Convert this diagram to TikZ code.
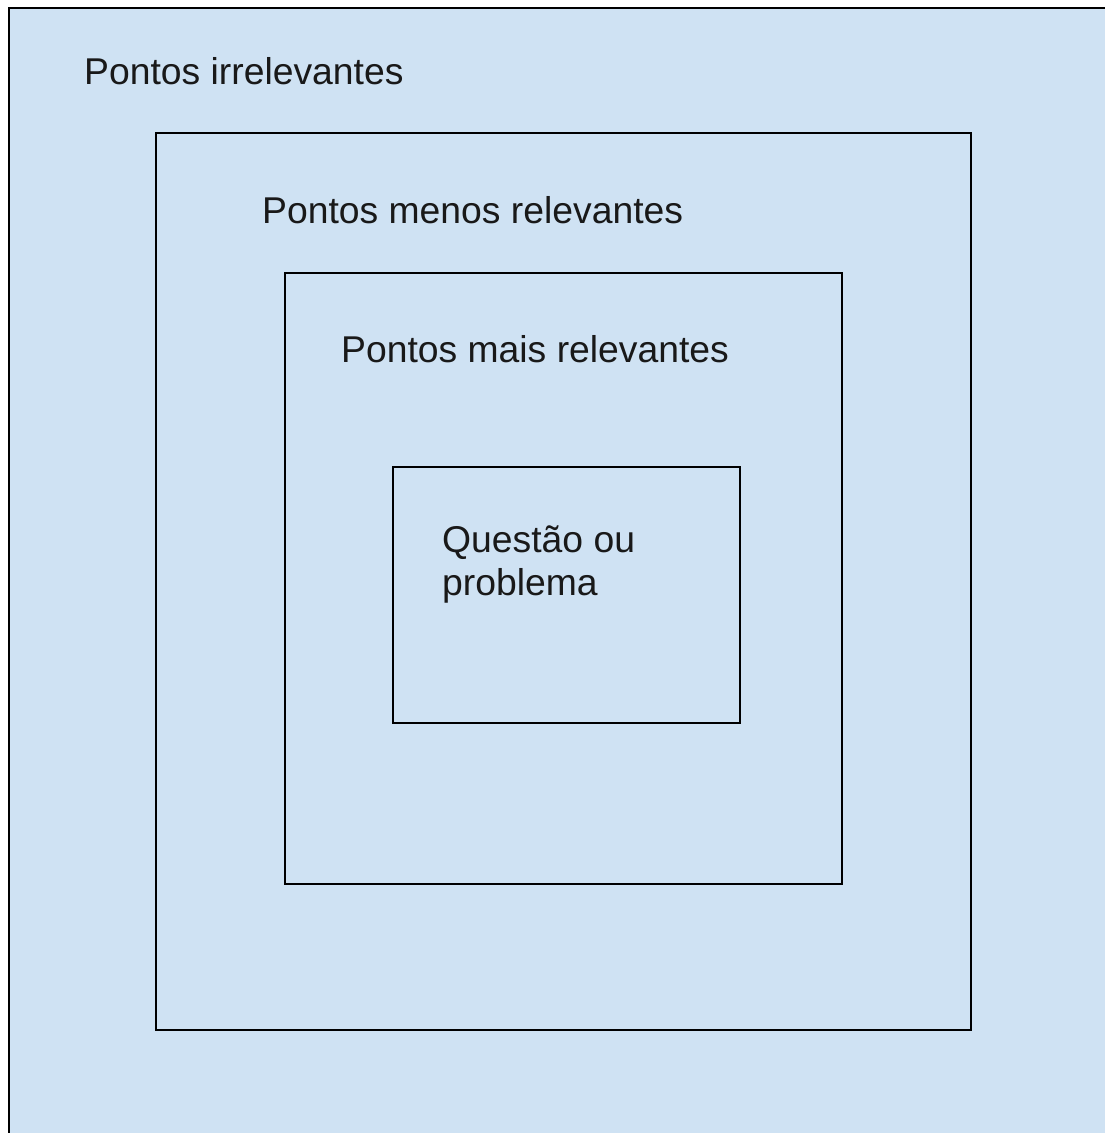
\documentclass[tikz,border=0pt]{standalone}
\usepackage{fontspec}
\setmainfont{Liberation Sans}
\definecolor{boxblue}{HTML}{CFE2F3}
\tikzset{
  frame/.style={draw=black, line width=1.6pt},
  lbl/.style={anchor=base west, inner sep=0pt, font=\fontsize{37.3}{43}\selectfont, text=black!90},
}
\begin{document}
\begin{tikzpicture}[x=1pt,y=-1pt]
\useasboundingbox (0,0) rectangle (1105,1133);
\clip (0,0) rectangle (1105,1133);
\path[fill=boxblue, frame] (9,8) rectangle (1130,1160);
\node[frame, fill=none, inner sep=0pt, minimum width=815pt, minimum height=897pt, anchor=north west] (b2) at (155,132) {};
\node[frame, inner sep=0pt, minimum width=557pt, minimum height=611pt, anchor=north west] (b3) at (284,272) {};
\node[frame, inner sep=0pt, minimum width=347pt, minimum height=256pt, anchor=north west] (b4) at (392,466) {};
\node[lbl] (t1) at (84,84) {Pontos irrelevantes};
\node[lbl] (t2) at (262,223) {Pontos menos relevantes};
\node[lbl] (t3) at (341,362) {Pontos mais relevantes};
\node[lbl] (t4) at (442,552) {Questão ou};
\node[lbl] (t5) at (442,595) {problema};
\end{tikzpicture}
\end{document}
